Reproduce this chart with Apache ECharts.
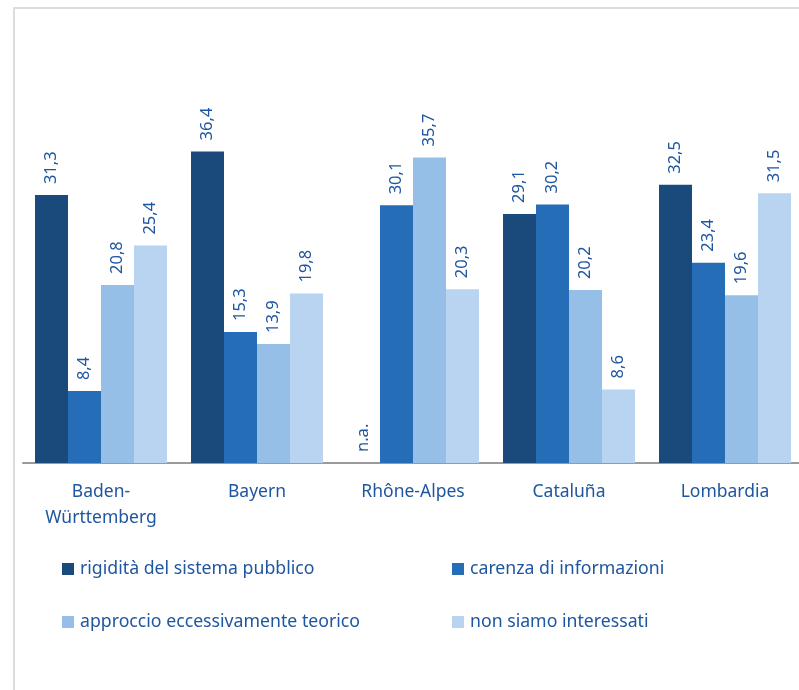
<!DOCTYPE html>
<html>
<head>
<meta charset="utf-8">
<script src="https://cdn.jsdelivr.net/npm/echarts@6/dist/echarts.min.js"></script>
<style>
html,body{margin:0;padding:0;background:#fff;overflow:hidden;width:799px;height:690px;}
#frame{position:absolute;left:13px;top:7px;width:800px;height:700px;border-left:2px solid #dcdcdc;border-top:2px solid #dcdcdc;}
#c{position:absolute;left:0;top:0;width:810px;height:690px;}
</style>
</head>
<body>
<div id="frame"></div>
<div id="c"></div>
<script>
const categories = ['Baden-\nWürttemberg', 'Bayern', 'Rhône-Alpes', 'Cataluña', 'Lombardia'];
const seriesNames = ['rigidità del sistema pubblico', 'carenza di informazioni', 'approccio eccessivamente teorico', 'non siamo interessati'];
const rigidita = [31.3, 36.4, null, 29.1, 32.5];
const carenza = [8.4, 15.3, 30.1, 30.2, 23.4];
const approccio = [20.8, 13.9, 35.7, 20.2, 19.6];
const nonInteressati = [25.4, 19.8, 20.3, 8.6, 31.5];
const colors = ['#1a4a7c', '#266db8', '#96bfe8', '#b9d4f0'];
const textColor = '#1f56a0';
const fontFamily = '"Source Sans Pro","Noto Sans","Open Sans",sans-serif';

const allData = [rigidita, carenza, approccio, nonInteressati];
const chart = echarts.init(document.getElementById('c'), null, {renderer: 'canvas'});
const series = allData.map((arr, i) => ({
  name: seriesNames[i],
  type: 'bar',
  barGap: '0%',
  barCategoryGap: '15.4%',
  itemStyle: {color: colors[i]},
  data: arr.map(v => v === null ? {value: 0, na: true} : v),
  label: {
    show: true,
    position: 'top',
    rotate: 90,
    align: 'left',
    verticalAlign: 'middle',
    distance: 11,
    color: textColor,
    fontSize: 16.5,
    fontFamily: fontFamily,
    formatter: p => (p.data && p.data.na) ? 'n.a.' : String(p.value).replace('.', ',')
  }
}));

const legendText = {color: textColor, fontSize: 17.7, fontFamily: fontFamily, padding: [0, 0, 0, 1]};
chart.setOption({
  animation: false,
  color: colors,
  legend: [
    {
      data: [seriesNames[0], seriesNames[2]],
      orient: 'vertical', left: 57, top: 555, itemGap: 35,
      itemWidth: 12, itemHeight: 12, icon: 'rect',
      textStyle: legendText
    },
    {
      data: [seriesNames[1], seriesNames[3]],
      orient: 'vertical', left: 447, top: 555, itemGap: 35,
      itemWidth: 12, itemHeight: 12, icon: 'rect',
      textStyle: legendText
    }
  ],
  grid: {left: 23, width: 780, top: 35, height: 428, containLabel: false, outerBoundsMode: 'none'},
  xAxis: {
    type: 'category',
    data: categories,
    axisLine: {lineStyle: {color: '#9a9a9a', width: 2}},
    axisTick: {show: false},
    axisLabel: {color: textColor, fontSize: 17.5, fontFamily: fontFamily, lineHeight: 26, margin: 16}
  },
  yAxis: {
    type: 'value', min: 0, max: 50,
    show: false,
    splitLine: {show: false}
  },
  series: series
});
</script>
</body>
</html>
